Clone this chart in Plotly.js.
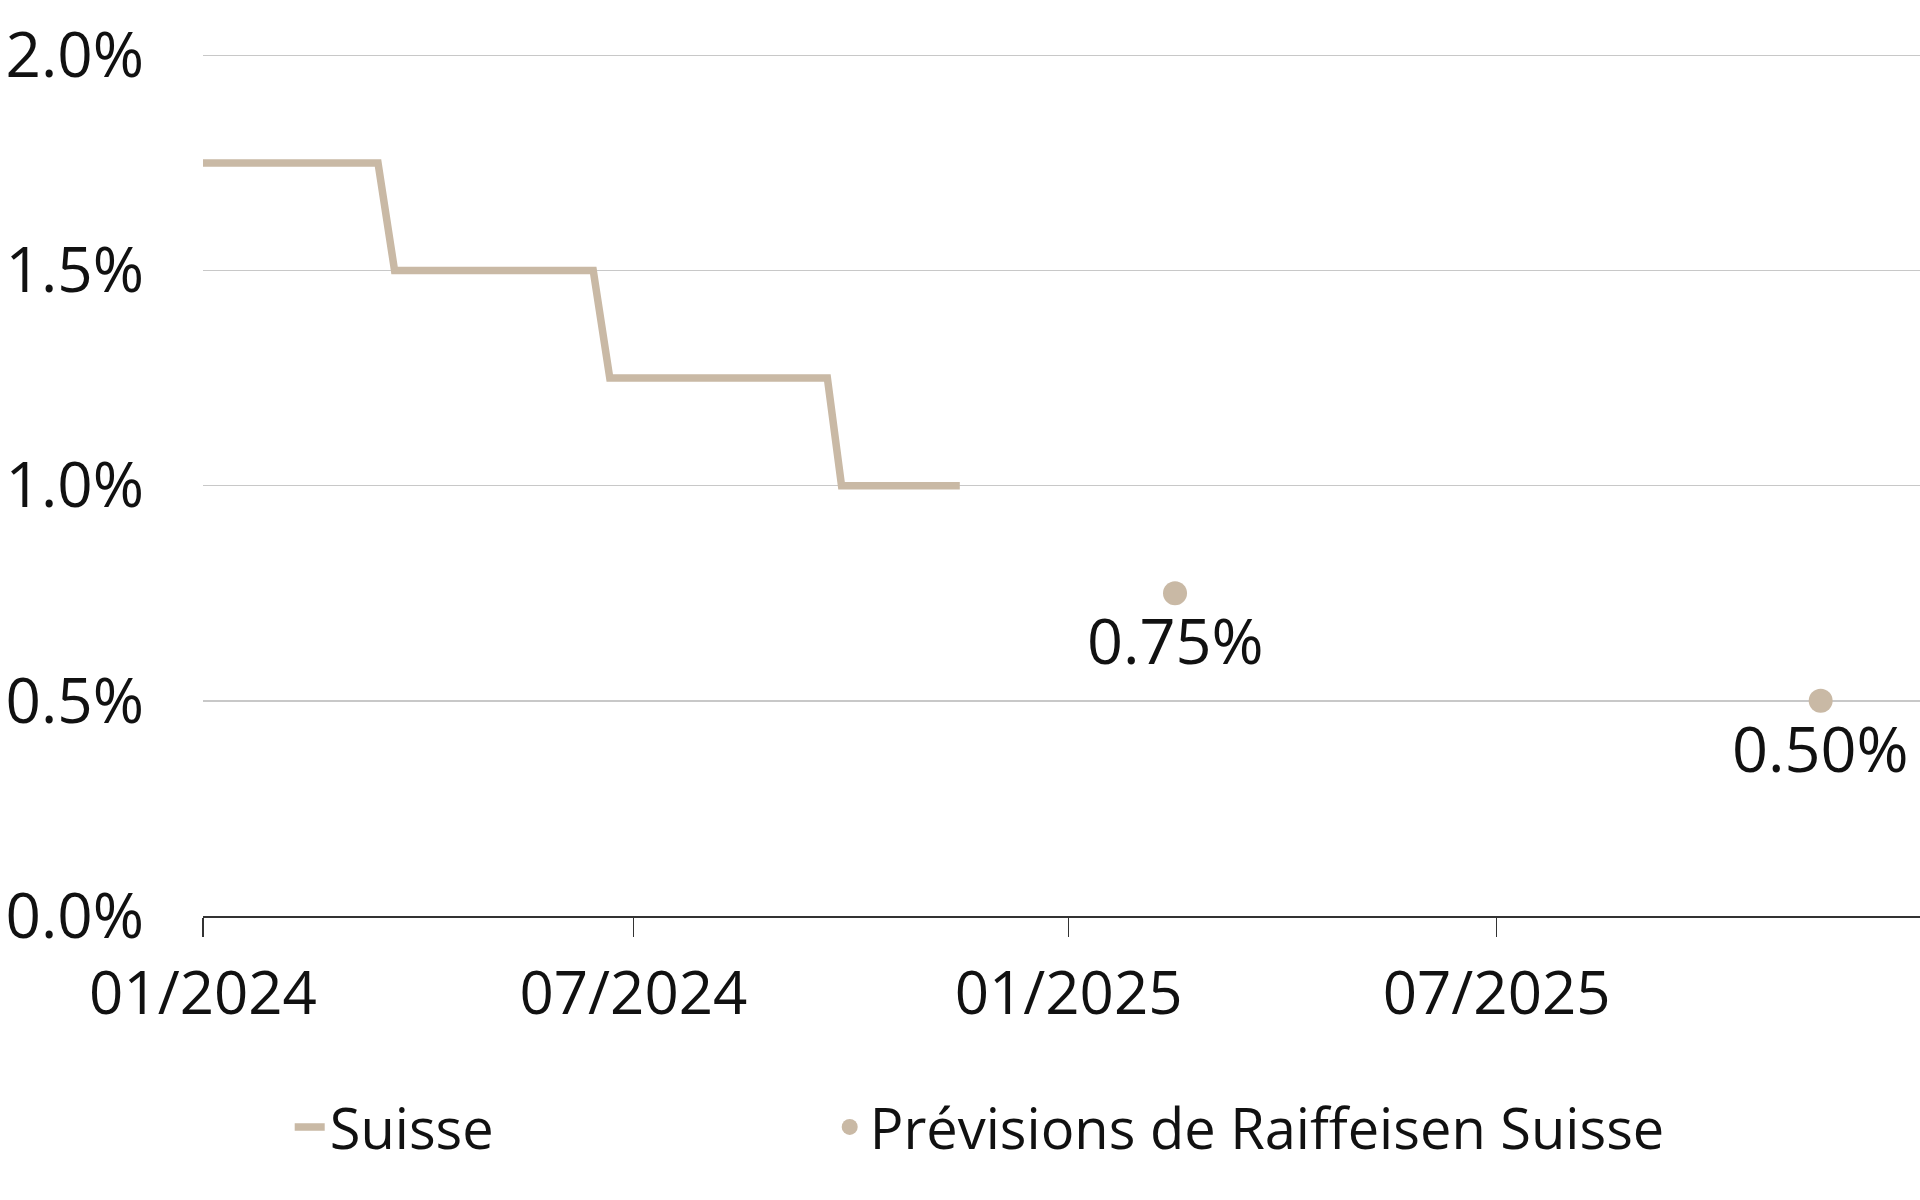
<!DOCTYPE html>
<html>
<head>
<meta charset="utf-8">
<script src="https://cdn.plot.ly/plotly-3.0.1.min.js"></script>
<style>
  html, body { margin: 0; padding: 0; background: #ffffff; }
  #chart { width: 1920px; height: 1200px; }
</style>
</head>
<body>
<div id="chart"></div>
<script>
// ---- Data ----
const suisseDates  = ['2024-01-01', '2024-03-15', '2024-03-22', '2024-06-14', '2024-06-21', '2024-09-21', '2024-09-27', '2024-11-16'];
const suisseValues = [1.75, 1.75, 1.50, 1.50, 1.25, 1.25, 1.00, 1.00];

const forecastDates  = ['2025-02-15', '2025-11-15'];
const forecastValues = [0.75, 0.50];
const forecastLabels = ['0.75%', '0.50%'];

const xTickVals  = ['2024-01-01', '2024-07-01', '2025-01-01', '2025-07-01'];
const xTickText  = ['01/2024', '07/2024', '01/2025', '07/2025'];
const yTickVals  = [0, 0.5, 1.0, 1.5, 2.0];
const yTickText  = ['0.0%', '0.5%', '1.0%', '1.5%', '2.0%'];

const seriesNames = ['Suisse', 'Prévisions de Raiffeisen Suisse'];

// ---- Styling ----
const beige = '#c9b9a5';
const fontFamily = '"Open Sans", "Noto Sans", sans-serif';
const textColor = '#111111';

const traces = [
  {
    type: 'scatter',
    mode: 'lines',
    name: seriesNames[0],
    x: suisseDates,
    y: suisseValues,
    line: { color: beige, width: 7.5 },
    legend: 'legend',
    hoverinfo: 'x+y'
  },
  {
    type: 'scatter',
    mode: 'markers',
    name: seriesNames[1],
    x: forecastDates,
    y: forecastValues,
    marker: { color: beige, size: 24 },
    legend: 'legend2',
    hoverinfo: 'x+y'
  }
];

const annotations = forecastDates.map((d, i) => ({
  x: d,
  y: forecastValues[i],
  xref: 'x',
  yref: 'y',
  text: forecastLabels[i],
  showarrow: false,
  xanchor: 'center',
  yanchor: 'top',
  yshift: -2,
  font: { family: fontFamily, size: 63, color: textColor }
}));

const legendCommon = {
  orientation: 'h',
  xanchor: 'left',
  y: -0.244,
  yanchor: 'middle',
  font: { family: fontFamily, size: 56, color: textColor },
  bgcolor: 'rgba(0,0,0,0)'
};

const layout = {
  width: 1920,
  height: 1200,
  paper_bgcolor: '#ffffff',
  plot_bgcolor: '#ffffff',
  margin: { l: 203, r: 0, t: 51, b: 284, pad: 0 },
  font: { family: fontFamily, size: 60, color: textColor },
  showlegend: true,
  legend: Object.assign({}, legendCommon, { x: 0.0505 }),
  legend2: Object.assign({}, legendCommon, { x: 0.365 }),
  annotations: annotations,
  xaxis: {
    type: 'date',
    range: ['2024-01-01', '2025-12-27'],
    tickmode: 'array',
    tickvals: xTickVals,
    ticktext: xTickText,
    ticks: 'outside',
    ticklen: 19,
    tickwidth: 1.2,
    tickcolor: '#333333',
    showline: true,
    linecolor: '#333333',
    linewidth: 2,
    showgrid: false,
    zeroline: false,
    tickfont: { family: fontFamily, size: 60, color: textColor },
    ticklabelstandoff: 5,
    fixedrange: true
  },
  yaxis: {
    range: [0, 2.01],
    tickmode: 'array',
    tickvals: yTickVals,
    ticktext: yTickText,
    showgrid: true,
    gridcolor: '#c8c8c8',
    gridwidth: 1.5,
    zeroline: false,
    showline: false,
    ticks: '',
    tickfont: { family: fontFamily, size: 62, color: textColor },
    ticklabelstandoff: 58,
    fixedrange: true
  }
};

Plotly.newPlot('chart', traces, layout, { staticPlot: true, displayModeBar: false });
</script>
</body>
</html>
